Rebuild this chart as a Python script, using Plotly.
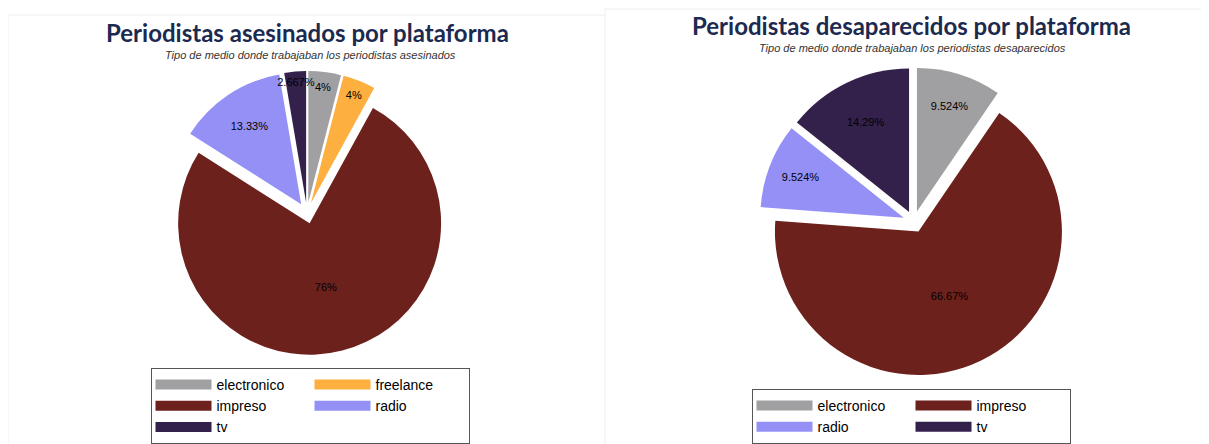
import plotly.graph_objects as go

# Data
cats_asesinados = ["electronico", "freelance", "impreso", "radio", "tv"]
vals_asesinados = [3, 3, 57, 10, 2]
cats_desaparecidos = ["electronico", "impreso", "radio", "tv"]
vals_desaparecidos = [2, 14, 2, 3]

color_map = {
    "electronico": "#a09fa2",
    "freelance": "#fdb03f",
    "impreso": "#6d211d",
    "radio": "#9590f6",
    "tv": "#33204b",
}

title_left = "Periodistas asesinados por plataforma"
sub_left = "Tipo de medio donde trabajaban los periodistas asesinados"
title_right = "Periodistas desaparecidos por plataforma"
sub_right = "Tipo de medio donde trabajaban los periodistas desaparecidos"


def pct_text(vals):
    tot = sum(vals)
    return [f"{v / tot * 100:.4g}%" for v in vals]


# page body has an 8px default margin; figure is sized/positioned to compensate
OFF = 8
FW, FH = 1209 - OFF, 444 - OFF


def px(x):
    return (x - OFF) / FW


def py(y):
    return 1 - (y - OFF) / FH


fig = go.Figure()

fig.add_trace(go.Pie(
    labels=cats_asesinados, values=vals_asesinados,
    text=pct_text(vals_asesinados), texttemplate="%{text}",
    textposition="inside", insidetextorientation="horizontal",
    textfont=dict(family="Liberation Sans", size=11, color="#000000"),
    marker=dict(colors=[color_map[c] for c in cats_asesinados], line=dict(width=0)),
    sort=False, direction="clockwise", rotation=0,
    pull=0.08, hoverinfo="label+percent", showlegend=False,
    domain=dict(x=[px(165), px(449)], y=[py(355), py(71)]),
    name="asesinados",
))

fig.add_trace(go.Pie(
    labels=cats_desaparecidos, values=vals_desaparecidos,
    text=pct_text(vals_desaparecidos), texttemplate="%{text}",
    textposition="inside", insidetextorientation="horizontal",
    textfont=dict(family="Liberation Sans", size=11, color="#000000"),
    marker=dict(colors=[color_map[c] for c in cats_desaparecidos], line=dict(width=0)),
    sort=False, direction="clockwise", rotation=0,
    pull=0.075, hoverinfo="label+percent", showlegend=False,
    domain=dict(x=[px(759.5), px(1068)], y=[py(376), py(67.5)]),
    name="desaparecidos",
))

# Legend entries (two columns, row-major like the reference)
for legend_id, cats in (("legend", cats_asesinados), ("legend2", cats_desaparecidos)):
    for i, cat in enumerate(cats):
        fig.add_trace(go.Scatter(
            x=[None], y=[None], mode="lines", name=cat,
            line=dict(color=color_map[cat], width=17),
            legend=legend_id, legendgroup=f"{legend_id}_col{i % 2}",
            showlegend=True, hoverinfo="skip",
        ))

legend_common = dict(
    orientation="h", bgcolor="white", bordercolor="#555555", borderwidth=1,
    font=dict(family="Liberation Sans", size=14, color="#000000"),
    entrywidth=88, entrywidthmode="pixels", xanchor="center", yanchor="top",
    traceorder="grouped", tracegroupgap=0, itemwidth=56,
)

fig.update_layout(
    width=FW, height=FH,
    margin=dict(l=0, r=0, t=0, b=0, autoexpand=False),
    paper_bgcolor="white", plot_bgcolor="white",
    xaxis=dict(visible=False), yaxis=dict(visible=False),
    uniformtext=dict(minsize=11, mode="show"),
    legend=dict(x=px(310), y=py(368), **legend_common),
    legend2=dict(x=px(911), y=py(389), **legend_common),
    annotations=[
        dict(text=f"<b>{title_left}</b>", x=px(307), y=py(32), xref="paper", yref="paper",
             showarrow=False, xanchor="center", yanchor="middle",
             font=dict(family="Lato", size=24, weight=900, color="#1c2a50")),
        dict(text=f"<i>{sub_left}</i>", x=px(310), y=py(55), xref="paper", yref="paper",
             showarrow=False, xanchor="center", yanchor="middle",
             font=dict(family="Liberation Sans", size=11, color="#333333")),
        dict(text=f"<b>{title_right}</b>", x=px(911), y=py(25), xref="paper", yref="paper",
             showarrow=False, xanchor="center", yanchor="middle",
             font=dict(family="Lato", size=24, weight=900, color="#1c2a50")),
        dict(text=f"<i>{sub_right}</i>", x=px(912), y=py(48), xref="paper", yref="paper",
             showarrow=False, xanchor="center", yanchor="middle",
             font=dict(family="Liberation Sans", size=11, color="#333333")),
    ],
    shapes=[
        dict(type="line", xref="paper", yref="paper", x0=px(8), x1=px(605), y0=py(15), y1=py(15),
             line=dict(color="#eeeeee", width=1)),
        dict(type="line", xref="paper", yref="paper", x0=px(8), x1=px(8), y0=py(15), y1=0,
             line=dict(color="#eeeeee", width=1)),
        dict(type="line", xref="paper", yref="paper", x0=px(605), x1=1, y0=py(9), y1=py(9),
             line=dict(color="#eeeeee", width=1)),
        dict(type="line", xref="paper", yref="paper", x0=px(605), x1=px(605), y0=py(9), y1=0,
             line=dict(color="#eeeeee", width=1)),
    ],
)

fig.write_html("out.html")
